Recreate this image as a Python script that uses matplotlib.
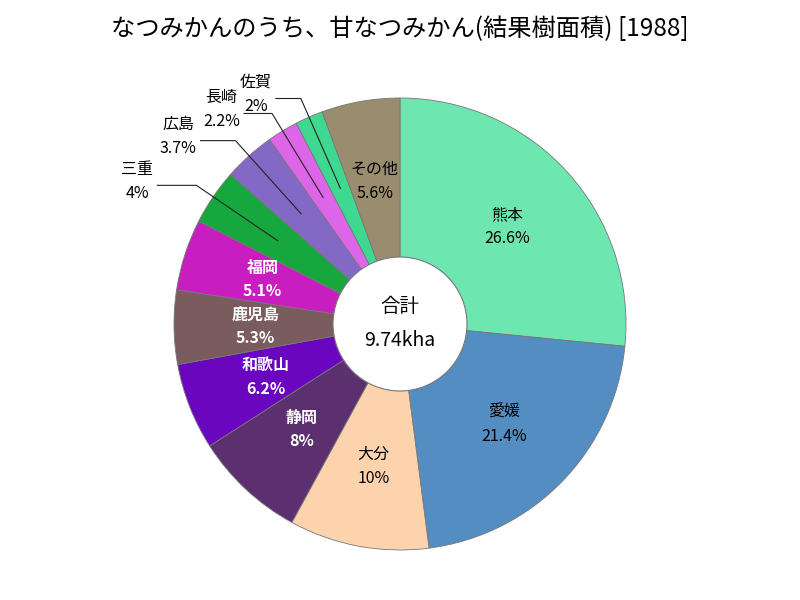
import numpy as np
import matplotlib
matplotlib.use("Agg")
import matplotlib.pyplot as plt

plt.rcParams['font.family'] = ['Noto Sans CJK JP', 'DejaVu Sans']

title = "なつみかんのうち、甘なつみかん(結果樹面積) [1988]"
names = ["熊本", "愛媛", "大分", "静岡", "和歌山", "鹿児島", "福岡",
         "三重", "広島", "長崎", "佐賀", "その他"]
shares = [26.6, 21.4, 10, 8, 6.2, 5.3, 5.1, 4, 3.7, 2.2, 2, 5.6]
total_label = "9.74kha"
colors = ["#6ee6b0", "#548dc2", "#fdd3ae", "#5c2f6e", "#6a06c0", "#7a5c5e",
          "#c81ec0", "#16a83e", "#8468c6", "#dd66e8", "#3fd890", "#9a8c6e"]
white_text = ["静岡", "和歌山", "鹿児島", "福岡"]
outside = ["三重", "広島", "長崎", "佐賀"]
# length of the horizontal part of each leader line (px)
tail_len = {"三重": 39, "広島": 35, "長崎": 28, "佐賀": 25}

fig = plt.figure(figsize=(8, 6), dpi=100)
ax = fig.add_axes([0, 0, 1, 1])

cx, cy, R = 400, 276, 226
wedges, _ = ax.pie(shares, colors=colors, startangle=90, counterclock=False,
                   center=(cx, cy), radius=R,
                   wedgeprops=dict(edgecolor="#777777", linewidth=0.6))
ax.add_patch(plt.Circle((cx, cy), 67, facecolor="white", edgecolor="#777777",
                        linewidth=0.8, zorder=5))
ax.text(cx, cy + 17, "合計", ha="center", va="center", fontsize=14, zorder=6)
ax.text(cx, cy - 16, total_label, ha="center", va="center", fontsize=14, zorder=6)

for w, name, s in zip(wedges, names, shares):
    ang = np.deg2rad((w.theta1 + w.theta2) / 2)
    lab = f"{name}\n{s:g}%"
    if name in outside:
        px, py = cx + 0.655 * R * np.cos(ang), cy + 0.655 * R * np.sin(ang)
        bx, by = cx + 1.09 * R * np.cos(ang), cy + 1.09 * R * np.sin(ang)
        hx = bx - tail_len[name]
        ax.plot([px, bx, hx], [py, by, by], color="#222222", linewidth=0.8, zorder=4)
        ax.text(hx - 4, by + 4, lab, ha="right", va="center", multialignment="center",
                fontsize=11.5, linespacing=1.55)
    else:
        tx, ty = cx + 0.64 * R * np.cos(ang), cy + 0.64 * R * np.sin(ang)
        if name in white_text:
            ax.text(tx, ty, lab, ha="center", va="center", color="white",
                    fontweight="bold", fontsize=11.5, linespacing=1.55)
        else:
            ax.text(tx, ty, lab, ha="center", va="center", color="black",
                    fontsize=11.5, linespacing=1.55)

ax.set_xlim(0, 800)
ax.set_ylim(0, 600)
ax.set_aspect("equal")
ax.axis("off")
fig.text(0.5, 0.952, title, ha="center", va="center", fontsize=17.5)

fig.savefig("out.png", dpi=100)
